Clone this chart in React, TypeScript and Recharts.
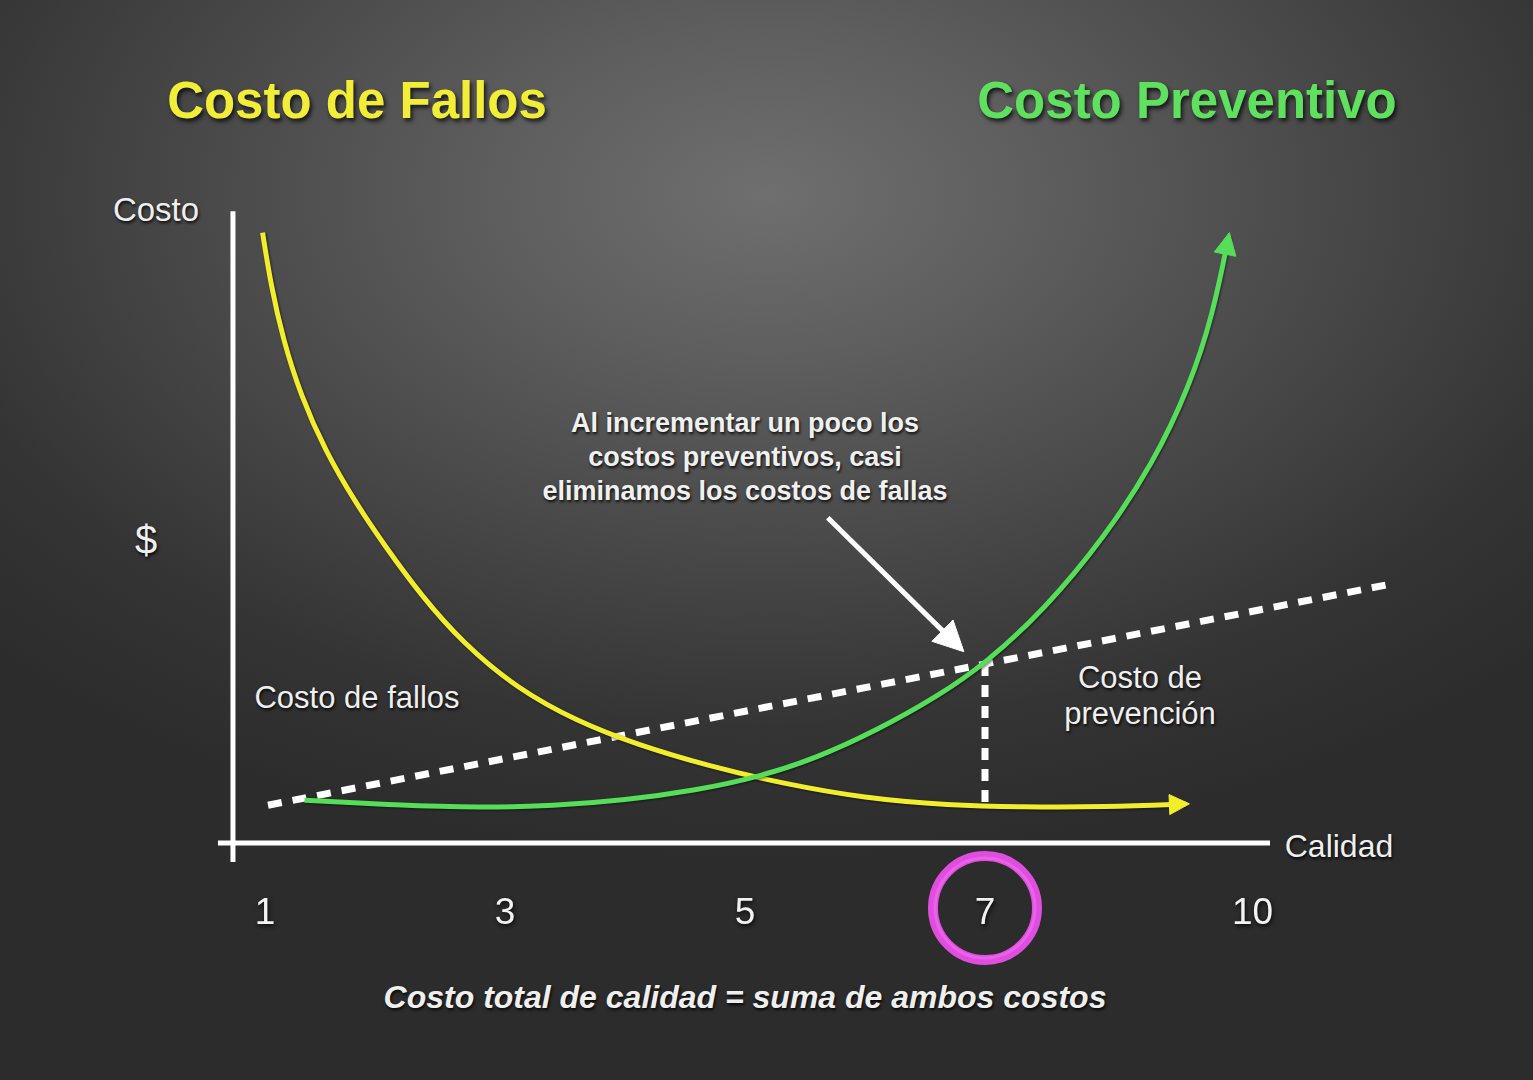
import React from 'react';
import { ComposedChart, Line, XAxis, YAxis, ReferenceLine, ReferenceDot } from 'recharts';

// Costo de fallos (yellow, decreasing)
const failureCost = [
  { x: 0.98, y: 9.68 },
  { x: 1.05, y: 8.84 },
  { x: 1.15, y: 7.99 },
  { x: 1.3, y: 7.09 },
  { x: 1.5, y: 6.23 },
  { x: 1.75, y: 5.41 },
  { x: 2.0, y: 4.71 },
  { x: 2.3, y: 3.93 },
  { x: 2.65, y: 3.17 },
  { x: 3.1, y: 2.45 },
  { x: 3.6, y: 1.93 },
  { x: 4.1, y: 1.56 },
  { x: 4.7, y: 1.22 },
  { x: 5.3, y: 0.95 },
  { x: 6.0, y: 0.71 },
  { x: 6.7, y: 0.6 },
  { x: 7.3, y: 0.57 },
  { x: 8.0, y: 0.57 },
  { x: 8.67, y: 0.62 },
];

// Costo preventivo (green, increasing)
const preventionCost = [
  { x: 1.33, y: 0.68 },
  { x: 2.1, y: 0.6 },
  { x: 2.8, y: 0.56 },
  { x: 3.4, y: 0.59 },
  { x: 4.0, y: 0.68 },
  { x: 4.6, y: 0.84 },
  { x: 5.1, y: 1.04 },
  { x: 5.6, y: 1.35 },
  { x: 6.1, y: 1.79 },
  { x: 6.6, y: 2.32 },
  { x: 7.0, y: 2.84 },
  { x: 7.5, y: 3.71 },
  { x: 8.0, y: 4.86 },
  { x: 8.4, y: 6.02 },
  { x: 8.7, y: 7.22 },
  { x: 8.9, y: 8.38 },
  { x: 9.03, y: 9.62 },
];

// Dashed total-cost trend
const totalTrend = [
  { x: 1.025, y: 0.6 },
  { x: 10.36, y: 4.1 },
];

// Vertical dashed drop at quality 7
const optimumDrop = [
  { x: 7, y: 2.84 },
  { x: 7, y: 0.6 },
];

// Annotation arrow
const noteArrow = [
  { x: 5.69, y: 5.16 },
  { x: 6.8, y: 3.08 },
];

const xAxisLine = [
  { x: 0.608, y: 0 },
  { x: 9.375, y: 0 },
];
const yAxisLine = [
  { x: 0.733, y: -0.3 },
  { x: 0.733, y: 10.02 },
];

const xTickValues = [1, 3, 5, 7, 9.23];
const xTickLabels = ['1', '3', '5', '7', '10'];
const highlightTick = { x: 7, y: -1.03 };

const FONT = '"Liberation Sans", Arial, Helvetica, sans-serif';
const TEXT_SHADOW = '1px 2px 3px rgba(0,0,0,0.85)';

function makeArrowHead(color: string, len: number, half: number) {
  return (props: any) => {
    const { cx, cy, index, points } = props;
    if (!points || index !== points.length - 1 || index === 0) {
      return <g key={`n-${index}`} />;
    }
    const p = points[index - 1];
    const ang = Math.atan2(cy - p.y, cx - p.x);
    const c = Math.cos(ang);
    const s = Math.sin(ang);
    const tx = cx + 4 * c;
    const ty = cy + 4 * s;
    const bx = tx - len * c;
    const by = ty - len * s;
    const pts = `${tx},${ty} ${bx - half * s},${by + half * c} ${bx + half * s},${by - half * c}`;
    return <polygon key={`a-${index}`} points={pts} fill={color} stroke={color} strokeWidth={1} strokeLinejoin="round" />;
  };
}

const TickLabel = (props: any) => {
  const { x, y, payload } = props;
  const i = xTickValues.indexOf(payload.value);
  return (
    <text
      x={x}
      y={y + 47}
      textAnchor="middle"
      dominantBaseline="central"
      fill="#f2f2f2"
      fontSize={37}
      fontFamily={FONT}
      style={{ filter: 'drop-shadow(1px 2px 2px rgba(0,0,0,0.8))' }}
    >
      {xTickLabels[i]}
    </text>
  );
};

const abs = (left: number, top: number, extra: React.CSSProperties = {}): React.CSSProperties => ({
  position: 'absolute',
  left,
  top,
  transform: 'translate(-50%, -50%)',
  whiteSpace: 'nowrap',
  fontFamily: FONT,
  color: '#efefef',
  textShadow: TEXT_SHADOW,
  lineHeight: 1,
  ...extra,
});

export default function App() {
  return (
    <div
      style={{
        position: 'absolute',
        left: 0,
        top: 0,
        width: 1533,
        height: 1080,
        overflow: 'hidden',
        background:
          'radial-gradient(ellipse 70% 62% at 50% 18%, #6f6f6f 0%, #5e5e5e 25%, #474747 55%, #343434 80%, #2c2c2c 100%)',
      }}
    >
      <ComposedChart
        width={1533}
        height={1080}
        margin={{ top: 181, right: 116, bottom: 188, left: 217 }}
        style={{ position: 'absolute', left: 0, top: 0 }}
      >
        <XAxis
          type="number"
          dataKey="x"
          domain={[0.6, 10.6]}
          ticks={xTickValues}
          axisLine={false}
          tickLine={false}
          tickSize={0}
          tick={<TickLabel />}
          height={30}
          allowDataOverflow
          interval={0}
        />
        <YAxis type="number" dataKey="y" domain={[-0.3, 10.5]} hide allowDataOverflow />

        <ReferenceLine segment={xAxisLine} stroke="#ffffff" strokeWidth={5} ifOverflow="visible" />
        <ReferenceLine segment={yAxisLine} stroke="#ffffff" strokeWidth={5} ifOverflow="visible" />

        <Line
          data={totalTrend}
          dataKey="y"
          type="linear"
          stroke="#ffffff"
          strokeWidth={7}
          strokeDasharray="14 11"
          dot={false}
          activeDot={false}
          isAnimationActive={false}
        />
        <Line
          data={optimumDrop}
          dataKey="y"
          type="linear"
          stroke="#ffffff"
          strokeWidth={7}
          strokeDasharray="12 9"
          dot={false}
          activeDot={false}
          isAnimationActive={false}
        />
        <Line
          data={failureCost}
          dataKey="y"
          type="basis"
          stroke="#f3ee2c"
          strokeWidth={5}
          dot={makeArrowHead('#f3ee2c', 20, 10)}
          activeDot={false}
          isAnimationActive={false}
          style={{ filter: 'drop-shadow(1px 1px 1px rgba(0,0,0,0.6))' }}
        />
        <Line
          data={preventionCost}
          dataKey="y"
          type="basis"
          stroke="#55de58"
          strokeWidth={5}
          dot={makeArrowHead('#55de58', 22, 11)}
          activeDot={false}
          isAnimationActive={false}
          style={{ filter: 'drop-shadow(1px 1px 1px rgba(0,0,0,0.5))' }}
        />
        <Line
          data={noteArrow}
          dataKey="y"
          type="linear"
          stroke="#ffffff"
          strokeWidth={5}
          dot={makeArrowHead('#ffffff', 30, 15)}
          activeDot={false}
          isAnimationActive={false}
        />

        <ReferenceDot
          x={highlightTick.x}
          y={highlightTick.y}
          r={52}
          fill="none"
          stroke="#e04ee0"
          strokeWidth={10}
          ifOverflow="visible"
        />
        <ReferenceDot
          x={highlightTick.x}
          y={highlightTick.y}
          r={50}
          fill="none"
          stroke="#f070f0"
          strokeWidth={3}
          strokeOpacity={0.6}
          ifOverflow="visible"
        />
      </ComposedChart>

      <div style={abs(357, 100, { fontSize: 51, fontWeight: 'bold', color: '#f2ee38', textShadow: '2px 3px 4px rgba(0,0,0,0.75)' })}>
        Costo de Fallos
      </div>
      <div style={abs(1187, 100, { fontSize: 51, fontWeight: 'bold', color: '#5fe05f', textShadow: '2px 3px 4px rgba(0,0,0,0.75)' })}>
        Costo Preventivo
      </div>
      <div style={abs(156, 209, { fontSize: 33 })}>Costo</div>
      <div style={abs(146, 540, { fontSize: 40 })}>$</div>
      <div style={abs(357, 697, { fontSize: 31 })}>Costo de fallos</div>
      <div style={abs(1140, 696, { fontSize: 31, lineHeight: '36px', textAlign: 'center' })}>
        Costo de
        <br />
        prevención
      </div>
      <div style={abs(1339, 846, { fontSize: 32 })}>Calidad</div>
      <div style={abs(745, 457, { fontSize: 27, fontWeight: 'bold', lineHeight: '34px', textAlign: 'center', color: '#f0f0f0' })}>
        Al incrementar un poco los
        <br />
        costos preventivos, casi
        <br />
        eliminamos los costos de fallas
      </div>
      <div style={abs(745, 997, { fontSize: 32, fontWeight: 'bold', fontStyle: 'italic' })}>
        Costo total de calidad = suma de ambos costos
      </div>
    </div>
  );
}
